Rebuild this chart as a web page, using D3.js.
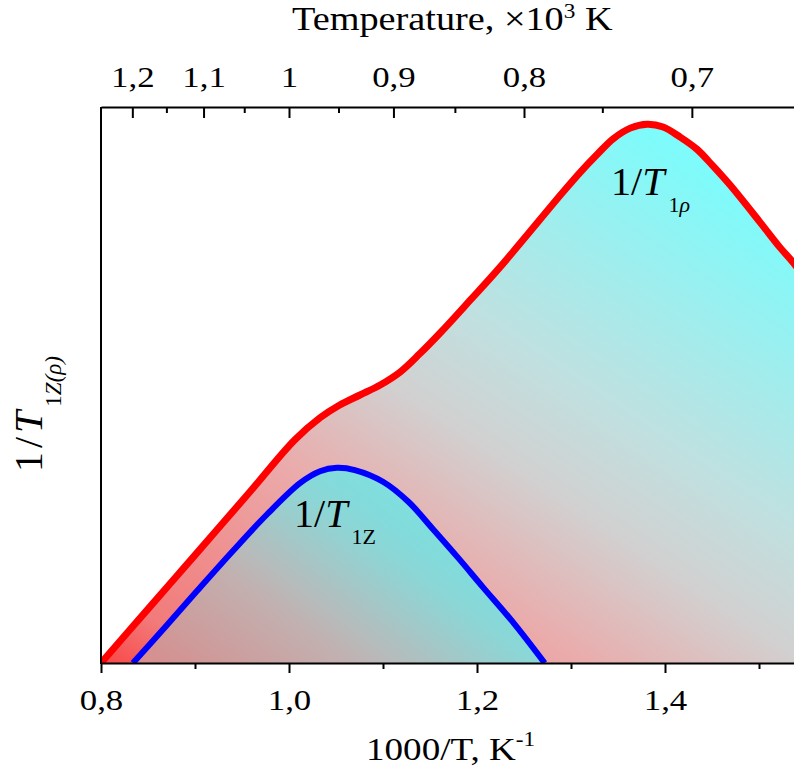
<!DOCTYPE html>
<html>
<head>
<meta charset="utf-8">
<script src="https://cdn.jsdelivr.net/npm/d3@7"></script>
<style>
  body { margin: 0; background: #fff; }
  svg text { font-family: "Liberation Serif", "DejaVu Serif", serif; fill: #000; }
</style>
</head>
<body>
<svg id="chart" width="794" height="776"></svg>
<script>
// 1000/T (K^-1) and relative rate
var rhoX = [0.800, 0.852, 0.900, 0.9585, 1.006, 1.033, 1.054, 1.0755, 1.097, 1.118, 1.139, 1.161, 1.193, 1.2245, 1.2915, 1.310, 1.328, 1.345, 1.363, 1.381, 1.398, 1.416, 1.434, 1.451, 1.469, 1.501, 1.522, 1.537, 1.5755, 1.600];
var rhoY = [0, 10.1, 19.4, 30.8, 40.1, 44.1, 46.4, 48.2, 50.0, 52.3, 55.6, 59.4, 65.3, 71.2, 84.7, 88.3, 91.5, 94.3, 96.2, 96.9, 96.4, 94.6, 92.4, 89.4, 86.0, 79.3, 74.8, 71.9, 63.1, 57.7];
var zX = [0.834, 0.870, 0.905, 0.940, 0.977, 1.012, 1.033, 1.051, 1.070, 1.100, 1.127, 1.153, 1.180, 1.206, 1.238, 1.272];
var zY = [0, 6.8, 13.5, 20.1, 26.8, 32.4, 34.5, 35.1, 34.7, 32.6, 29.0, 24.1, 18.9, 13.7, 7.4, 0];

var bottomMajor = [0.8, 1.0, 1.2, 1.4];
var bottomMinor = [0.9, 1.1, 1.3, 1.5];
var topMajorT = [1.2, 1.1, 1, 0.9, 0.8, 0.7];
var topMinorT = [1.15, 1.05, 0.95, 0.85, 0.75, 0.65];

(function() {
  var svg = d3.select("#chart");
  var mLeft = 101, mRight = 853, mTop = 107, mBottom = 663;
  var sx = 1.16; // text in the original is a bit wide

  var x = d3.scaleLinear().domain([0.8, 1.6]).range([mLeft, mRight]);
  var y = d3.scaleLinear().domain([0, 100]).range([mBottom, mTop]);
  var f1 = d3.format(".1f");

  // gradients
  var defs = svg.append("defs");
  var g1 = defs.append("linearGradient").attr("id", "gRed")
    .attr("gradientUnits", "userSpaceOnUse")
    .attr("x1", 101).attr("y1", 663).attr("x2", 547).attr("y2", -2);
  [[0, "#fa4646"], [0.08, "#f27a7a"], [0.33, "#ebaaaa"], [0.49, "#d2d0d0"], [0.62, "#c0e0e0"], [0.92, "#80fafa"], [1, "#78ffff"]]
    .forEach(function(s) { g1.append("stop").attr("offset", s[0]).attr("stop-color", s[1]); });

  var g2 = defs.append("linearGradient").attr("id", "gBlue")
    .attr("gradientUnits", "userSpaceOnUse")
    .attr("x1", 133).attr("y1", 663).attr("x2", 313).attr("y2", 423);
  [[0, "#da8c8c"], [0.1, "#d29494"], [0.42, "#c3afaf"], [0.52, "#b8baba"], [0.8, "#8cd6d6"], [0.9, "#82dbdb"], [1, "#80e0e0"]]
    .forEach(function(s) { g2.append("stop").attr("offset", s[0]).attr("stop-color", s[1]); });

  defs.append("clipPath").attr("id", "plot").append("rect")
    .attr("x", mLeft).attr("y", mTop).attr("width", mRight - mLeft).attr("height", mBottom - mTop);

  var rho = rhoX.map(function(d, i) { return [d, rhoY[i]]; });
  var z = zX.map(function(d, i) { return [d, zY[i]]; });

  var curve = d3.curveCatmullRom.alpha(0.5);
  var area = d3.area().x(function(d) { return x(d[0]); }).y0(y(0)).y1(function(d) { return y(d[1]); }).curve(curve);
  var line = d3.line().x(function(d) { return x(d[0]); }).y(function(d) { return y(d[1]); }).curve(curve);

  var plot = svg.append("g").attr("clip-path", "url(#plot)");
  plot.append("path").attr("d", area(rho)).attr("fill", "url(#gRed)");
  plot.append("path").attr("d", area(z)).attr("fill", "url(#gBlue)");
  plot.append("path").attr("d", line(rho)).attr("fill", "none").attr("stroke", "#ff0000").attr("stroke-width", 7);
  plot.append("path").attr("d", line(z)).attr("fill", "none").attr("stroke", "#0000ff").attr("stroke-width", 6);

  // bottom axis
  svg.append("g").attr("transform", "translate(0," + mBottom + ")")
    .call(d3.axisBottom(x).tickValues(bottomMajor).tickFormat(function(d) { return f1(d).replace(".", ","); })
      .tickSize(10).tickSizeOuter(0).tickPadding(16));
  svg.append("g").attr("transform", "translate(0," + mBottom + ")")
    .call(d3.axisBottom(x).tickValues(bottomMinor).tickFormat("").tickSize(6).tickSizeOuter(0))
    .select(".domain").remove();

  // top axis (temperature, x10^3 K)
  svg.append("g").attr("transform", "translate(0," + mTop + ")")
    .call(d3.axisTop(x).tickValues(topMajorT.map(function(t) { return 1 / t; }))
      .tickFormat(function(d, i) { return String(topMajorT[i]).replace(".", ","); })
      .tickSize(-11).tickSizeOuter(0).tickPadding(20));
  svg.append("g").attr("transform", "translate(0," + mTop + ")")
    .call(d3.axisTop(x).tickValues(topMinorT.map(function(t) { return 1 / t; })).tickFormat("").tickSize(-6).tickSizeOuter(0))
    .select(".domain").remove();

  svg.selectAll(".tick line").attr("stroke", "#000").attr("stroke-width", 2);
  svg.selectAll(".domain").attr("stroke", "#000").attr("stroke-width", 2);
  svg.selectAll(".tick text").attr("font-size", 30).attr("font-family", "Liberation Serif")
    .attr("transform", "scale(" + sx + ",1)");

  // left axis line
  svg.append("line").attr("x1", mLeft).attr("x2", mLeft).attr("y1", mTop).attr("y2", mBottom + 1)
    .attr("stroke", "#000").attr("stroke-width", 2);

  // titles
  var tb = svg.append("text").attr("transform", "translate(366,760) scale(" + sx + ",1)").attr("font-size", 32);
  tb.append("tspan").text("1000/T, K");
  tb.append("tspan").attr("font-size", 20).attr("dy", -14).text("-1");

  var tt = svg.append("text").attr("transform", "translate(292,30) scale(" + sx + ",1)").attr("font-size", 33);
  tt.append("tspan").text("Temperature, \u00d710");
  tt.append("tspan").attr("font-size", 20).attr("dy", -12).text("3");
  tt.append("tspan").attr("dy", 12).text(" K");

  var tl = svg.append("text").attr("transform", "translate(42,472) rotate(-90)").attr("font-size", 40).attr("letter-spacing", 4);
  tl.append("tspan").text("1/");
  tl.append("tspan").attr("font-style", "italic").text("T");
  tl.append("tspan").attr("font-size", 23).attr("dy", 19).attr("letter-spacing", 0).text("1");
  tl.append("tspan").attr("font-size", 23).attr("font-style", "italic").attr("letter-spacing", 0).text("Z(\u03c1)");

  function label(px, py, sub) {
    var t = svg.append("text").attr("x", px).attr("y", py).attr("font-size", 40);
    t.append("tspan").text("1/");
    t.append("tspan").attr("font-style", "italic").text("T");
    t.append("tspan").attr("font-size", 22).attr("dy", 17).attr("dx", 4).text("1");
    t.append("tspan").attr("font-size", 22).attr("font-style", sub === "Z" ? "normal" : "italic").text(sub === "Z" ? "Z" : "\u03c1");
  }
  label(611, 195, "rho");
  label(294, 527, "Z");
})();
</script>
</body>
</html>
